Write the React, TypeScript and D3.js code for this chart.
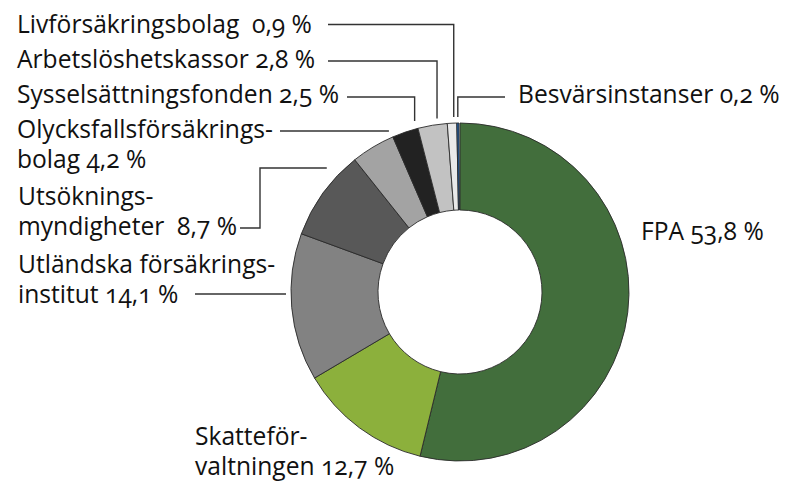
import React from "react";
import * as d3 from "d3";

const categories = [
  "FPA",
  "Skatteförvaltningen",
  "Utländska försäkringsinstitut",
  "Utsökningsmyndigheter",
  "Olycksfallsförsäkringsbolag",
  "Sysselsättningsfonden",
  "Arbetslöshetskassor",
  "Livförsäkringsbolag",
  "Besvärsinstanser",
];
const values = [53.8, 12.7, 14.1, 8.7, 4.2, 2.5, 2.8, 0.9, 0.2];
const colors = [
  "#426e3c",
  "#8cb03c",
  "#828282",
  "#585858",
  "#a3a3a3",
  "#222222",
  "#c2c2c2",
  "#e9e9e9",
  "#1f5fa8",
];
const labelLines = [
  ["FPA 53,8 %"],
  ["Skatteför-", "valtningen 12,7 %"],
  ["Utländska försäkrings-", "institut 14,1 %"],
  ["Utsöknings-", "myndigheter  8,7 %"],
  ["Olycksfallsförsäkrings-", "bolag 4,2 %"],
  ["Sysselsättningsfonden 2,5 %"],
  ["Arbetslöshetskassor 2,8 %"],
  ["Livförsäkringsbolag  0,9 %"],
  ["Besvärsinstanser 0,2 %"],
];

// layout
const W = 786;
const H = 481;
const cx = 460;
const cy = 292;
const R = 169;
const r = 82;
const lineH = 30;
const fontSize = 24.6;

type Leader =
  | { kind: "none" }
  | { kind: "down"; sx: number; sy: number; frac: number; gap: number }
  | { kind: "horiz"; sx: number; sy: number; gap: number }
  | { kind: "step"; sx: number; sy: number; ex: number; ey: number; gap: number };

const labelPos: { x: number; y: number }[] = [
  { x: 641, y: 240 },
  { x: 195, y: 445 },
  { x: 18, y: 273 },
  { x: 18, y: 205 },
  { x: 17, y: 138 },
  { x: 17, y: 103 },
  { x: 17, y: 68 },
  { x: 17, y: 33 },
  { x: 518, y: 103 },
];
const leaders: Leader[] = [
  { kind: "none" },
  { kind: "none" },
  { kind: "horiz", sx: 195, sy: 294, gap: 5 },
  { kind: "step", sx: 240, sy: 228, ex: 260, ey: 168, gap: 13 },
  { kind: "horiz", sx: 280, sy: 131, gap: 7 },
  { kind: "down", sx: 347, sy: 97, frac: 0.95, gap: 8 },
  { kind: "down", sx: 328, sy: 61, frac: 0.68, gap: 6 },
  { kind: "down", sx: 328, sy: 24.5, frac: 0.7, gap: 6 },
  { kind: "down", sx: 505, sy: 97, frac: 0.5, gap: 6 },
];

export default function App() {
  const total = d3.sum(values);
  const pie = d3
    .pie<number>()
    .sort(null)
    .value((d) => d)
    .startAngle(0)
    .endAngle((2 * Math.PI * total) / 100);
  const arcs = pie(values);
  const arcGen = d3.arc<d3.PieArcDatum<number>>().innerRadius(r).outerRadius(R);

  const xOnCircle = (y: number, rad: number) =>
    cx - Math.sqrt(Math.max(0, rad * rad - (cy - y) * (cy - y)));

  const leaderPath = (i: number) => {
    const L = leaders[i];
    const a = arcs[i];
    if (L.kind === "none") return null;
    if (L.kind === "horiz") {
      const x2 = xOnCircle(L.sy, R + L.gap);
      return `M${L.sx},${L.sy}H${x2}`;
    }
    if (L.kind === "step") {
      const x2 = xOnCircle(L.ey, R + L.gap);
      return `M${L.sx},${L.sy}H${L.ex}V${L.ey}H${x2}`;
    }
    const ang = a.startAngle + L.frac * (a.endAngle - a.startAngle);
    const ax = cx + (R + L.gap) * Math.sin(ang);
    const ay = cy - (R + L.gap) * Math.cos(ang);
    return `M${L.sx},${L.sy}H${ax}V${ay}`;
  };

  return (
    <svg
      width={W}
      height={H}
      style={{ position: "absolute", left: 0, top: 0, background: "#fff" }}
    >
      <rect width={W} height={H} fill="#fff" />
      <g transform={`translate(${cx},${cy})`}>
        {arcs.map((a, i) => (
          <path
            key={i}
            d={arcGen(a) || ""}
            fill={colors[i]}
            stroke="#2a2a2a"
            strokeWidth={0.9}
          />
        ))}
      </g>
      {arcs.map((_, i) => {
        const d = leaderPath(i);
        return d ? (
          <path key={"l" + i} d={d} fill="none" stroke="#333" strokeWidth={1.4} />
        ) : null;
      })}
      {labelLines.map((lines, i) => (
        <text
          key={"t" + i}
          x={labelPos[i].x}
          y={labelPos[i].y}
          fontFamily="'Open Sans', sans-serif"
          fontSize={fontSize}
          fill="#111"
          style={{ fontVariantNumeric: "oldstyle-nums", whiteSpace: "pre" }}
        >
          {lines.map((ln, j) => (
            <tspan key={j} x={labelPos[i].x} y={labelPos[i].y + j * lineH}>
              {ln}
            </tspan>
          ))}
        </text>
      ))}
    </svg>
  );
}
